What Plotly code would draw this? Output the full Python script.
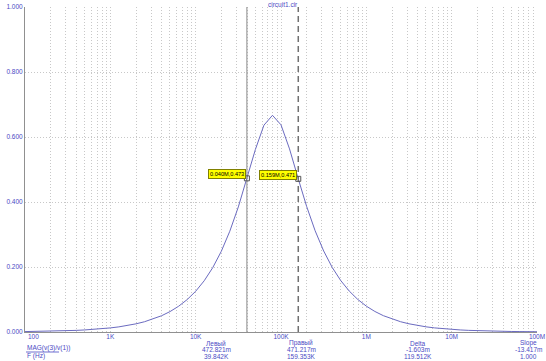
import plotly.graph_objects as go
import numpy as np

# ---- data ----
freq_exp = [2.0, 2.1, 2.2, 2.3, 2.4, 2.5, 2.6, 2.7, 2.8, 2.9,
            3.0, 3.1, 3.2, 3.3, 3.4, 3.5, 3.6, 3.7, 3.8, 3.9,
            4.0, 4.1, 4.2, 4.3, 4.4, 4.5, 4.6, 4.7, 4.8, 4.9,
            5.0, 5.1, 5.2, 5.3, 5.4, 5.5, 5.6, 5.7, 5.8, 5.9,
            6.0, 6.1, 6.2, 6.3, 6.4, 6.5, 6.6, 6.7, 6.8, 6.9,
            7.0, 7.1, 7.2, 7.3, 7.4, 7.5, 7.6, 7.7, 7.8, 7.9, 8.0]
mag = [0.00126, 0.00158, 0.00199, 0.00251, 0.00316, 0.00397, 0.00500, 0.00630, 0.00793, 0.00998,
       0.01255, 0.01581, 0.01991, 0.02507, 0.03154, 0.03971, 0.04998, 0.06292, 0.07919, 0.09964,
       0.1253, 0.1576, 0.1979, 0.2481, 0.3101, 0.3849, 0.4714, 0.5617, 0.6363, 0.6667,
       0.6374, 0.5634, 0.4733, 0.3867, 0.3115, 0.2493, 0.1988, 0.1583, 0.1259, 0.1001,
       0.07955, 0.06321, 0.05020, 0.03989, 0.03171, 0.02519, 0.02000, 0.01589, 0.01262, 0.01002,
       0.00796, 0.00632, 0.00502, 0.00399, 0.00317, 0.00252, 0.00200, 0.00159, 0.00126, 0.00100, 0.00080]
freq = [10 ** e for e in freq_exp]

x_tick_vals = [1e2, 1e3, 1e4, 1e5, 1e6, 1e7, 1e8]
x_tick_text = ["100", "1K", "10K", "100K", "1M", "10M", "100M"]
y_tick_vals = [0.0, 0.2, 0.4, 0.6, 0.8, 1.0]

cursor_left = (39842.0, 0.472821)
cursor_right = (159353.0, 0.471217)
cursor_left_label = "0.040M,0.473"
cursor_right_label = "0.159M,0.471"

title_text = "circuit1.cir"
expr_text = "MAG(v(3)/v(1))"
xvar_text = "F (Hz)"
col_heads = ["Левый", "Правый", "Delta", "Slope"]
col_row1 = ["472.821m", "471.217m", "-1.603m", "-13.417m"]
col_row2 = ["39.842K", "159.353K", "119.512K", "1.000"]
col_px = [216, 301, 418, 528]

# ---- layout geometry ----
W, H = 546, 361
L, R, T, B = 25, 9, 7, 29
pw, ph = W - L - R, H - T - B

def pyp(pix):  # pixel y -> paper y
    return (H - B - pix) / ph

def pxp(pix):
    return (pix - L) / pw

blue = "#4a4ac4"
curve_col = "#6b6bc0"
grid_col = "#c8c8c8"
grid_dash = "1px,2px"
font_fam = "Liberation Sans, Arial, sans-serif"
fs = 6.5

minor_vals = [m * 10 ** d for d in range(2, 8) for m in range(2, 10)]

fig = go.Figure()
fig.add_trace(go.Scatter(x=freq, y=mag, mode="lines",
                         line=dict(color=curve_col, width=1), hoverinfo="skip"))
# cursors
fig.add_trace(go.Scatter(x=[cursor_left[0]] * 2, y=[0, 1], mode="lines",
                         line=dict(color="#8a8a8a", width=1), hoverinfo="skip"))
fig.add_trace(go.Scatter(x=[cursor_right[0]] * 2, y=[0, 1], mode="lines",
                         line=dict(color="#707070", width=1.5, dash="6px,4px"), hoverinfo="skip"))
fig.add_trace(go.Scatter(x=[cursor_left[0], cursor_right[0]],
                         y=[cursor_left[1], cursor_right[1]], mode="markers",
                         marker=dict(symbol="square-open", size=5, color="#555555",
                                     line=dict(width=1)), hoverinfo="skip"))

for (cx, cy), lab in [(cursor_left, cursor_left_label), (cursor_right, cursor_right_label)]:
    fig.add_annotation(x=np.log10(cx), y=cy, xref="x", yref="y", text=lab,
                       showarrow=False, xanchor="right", yanchor="bottom",
                       xshift=-1, yshift=-1,
                       font=dict(size=5.6, color="#000000", family=font_fam),
                       bgcolor="#ffff00", bordercolor="#808000", borderwidth=1, borderpad=1)

# first x label sits to the right of the axis corner, as in the reference
fig.add_annotation(x=np.log10(x_tick_vals[0]), y=pyp(336.5), xref="x", yref="paper",
                   text=x_tick_text[0], showarrow=False, xanchor="left", yanchor="middle",
                   xshift=0.5, font=dict(size=fs, color=blue, family=font_fam))

fig.add_annotation(x=pxp(283), y=pyp(4), xref="paper", yref="paper",
                   text=title_text, showarrow=False, xanchor="center", yanchor="middle",
                   font=dict(size=fs, color=blue, family=font_fam))

fig.add_annotation(x=pxp(25), y=pyp(348), xref="paper", yref="paper", text=expr_text,
                   showarrow=False, xanchor="left", yanchor="middle",
                   font=dict(size=fs, color=blue, family=font_fam))
fig.add_shape(type="line", xref="paper", yref="paper", x0=pxp(26), x1=pxp(59),
              y0=pyp(352), y1=pyp(352), line=dict(color=blue, width=0.8))
fig.add_annotation(x=pxp(25), y=pyp(356), xref="paper", yref="paper", text=xvar_text,
                   showarrow=False, xanchor="left", yanchor="middle",
                   font=dict(size=fs, color=blue, family=font_fam))
for cxp, h, r1, r2 in zip(col_px, col_heads, col_row1, col_row2):
    for txt, yy in [(h, 343), (r1, 349.5), (r2, 356)]:
        fig.add_annotation(x=pxp(cxp), y=pyp(yy), xref="paper", yref="paper", text=txt,
                           showarrow=False, xanchor="center", yanchor="middle",
                           font=dict(size=fs, color=blue, family=font_fam))

fig.update_layout(
    width=W, height=H, margin=dict(l=L, r=R, t=T, b=B, pad=0, autoexpand=False),
    paper_bgcolor="white", plot_bgcolor="white", showlegend=False,
    font=dict(family=font_fam, size=fs, color=blue),
    xaxis=dict(type="log", range=[2, 8], tickvals=x_tick_vals[1:], ticktext=x_tick_text[1:],
               showgrid=True, gridcolor=grid_col, griddash=grid_dash, gridwidth=1,
               minor=dict(tickvals=minor_vals, showgrid=True, gridcolor=grid_col,
                          griddash=grid_dash, gridwidth=1, ticks=""),
               showline=True, linecolor="#909090", linewidth=1, ticks="",
               ticklabelstandoff=-2,
               automargin=False, zeroline=False,
               tickfont=dict(size=fs, color=blue), fixedrange=True),
    yaxis=dict(range=[0, 1], tickvals=y_tick_vals, tickformat=".3f",
               showgrid=True, gridcolor=grid_col, griddash=grid_dash, gridwidth=1,
               showline=True, linecolor="#909090", linewidth=1, ticks="",
               automargin=False, zeroline=False,
               tickfont=dict(size=fs, color=blue), fixedrange=True),
)

fig.write_html("out.html", config={"displayModeBar": False},
               post_script="document.body.style.margin='0';document.body.style.overflow='hidden';")
